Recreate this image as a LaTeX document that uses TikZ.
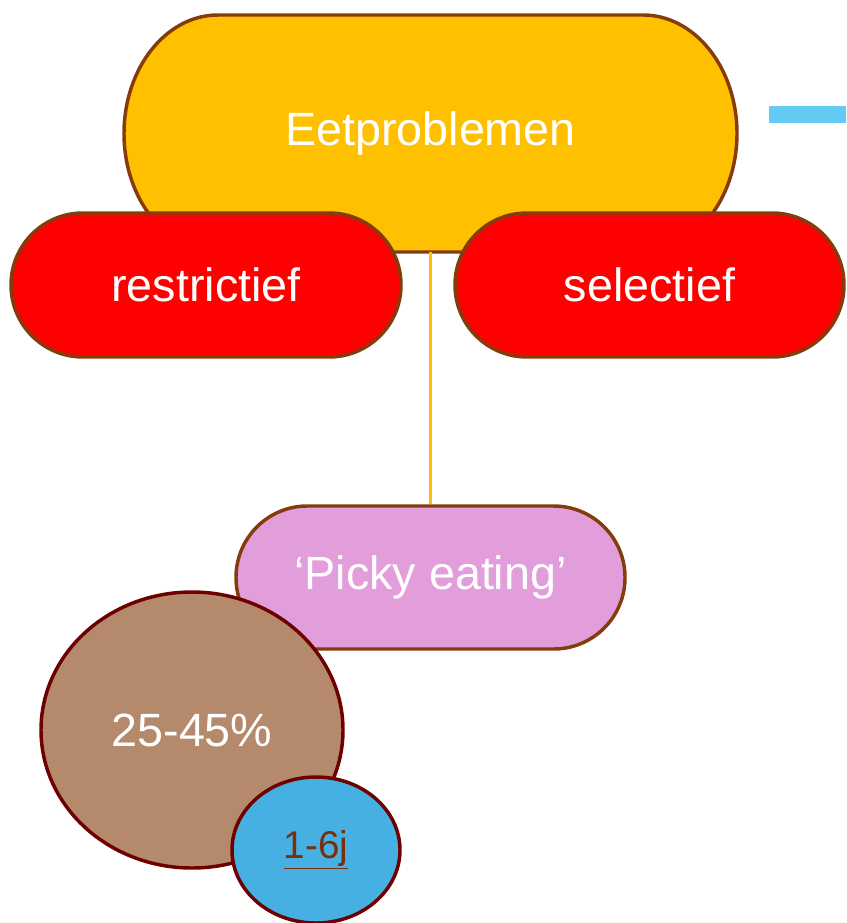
\documentclass[tikz,border=0pt]{standalone}
\usepackage{fontspec}
\setmainfont{Liberation Sans}
\usetikzlibrary{shapes.geometric}
\definecolor{goldfill}{HTML}{FFC000}
\definecolor{rustline}{HTML}{843C0C}
\definecolor{redfill}{HTML}{FF0000}
\definecolor{pinkfill}{HTML}{E29EDB}
\definecolor{tanfill}{HTML}{B5896B}
\definecolor{maroonline}{HTML}{6E0000}
\definecolor{bluefill}{HTML}{45B0E1}
\definecolor{barblue}{HTML}{63CAF4}
\definecolor{darktext}{HTML}{7A2E0E}
\tikzset{
  bigtext/.style={text=white, font=\fontsize{35}{42}\selectfont, inner sep=0pt},
  pill/.style={bigtext, draw=rustline, line width=2.6pt},
  blob/.style={ellipse, draw=maroonline, line width=2.6pt, inner sep=0pt},
  link/.style={draw=goldfill, line width=2.6pt}
}
\begin{document}
\begin{tikzpicture}[x=0.75pt,y=-0.75pt]
  \useasboundingbox (0,0) rectangle (846,923);
  % accent bar at the top right
  \fill[barblue] (769,106) rectangle (846,123);
  % main heading: rounded box with elliptical ends
  \draw[fill=goldfill, draw=rustline, line width=2.6pt]
    (218,15) -- (643,15)
    arc[start angle=90, end angle=-90, x radius=70.5pt, y radius=88.875pt]
    -- (218,252)
    arc[start angle=270, end angle=90, x radius=70.5pt, y radius=88.875pt]
    -- cycle;
  \node[bigtext, minimum width=459.75pt, minimum height=177.75pt]
    (top) at (430.5,133.5) {Eetproblemen};
  % the two kinds
  \node[pill, fill=redfill, minimum width=292.5pt, minimum height=108pt,
        rounded corners=53.9pt] (restr) at (206,285) {restrictief};
  \node[pill, fill=redfill, minimum width=291.75pt, minimum height=108pt,
        rounded corners=53.9pt] (selec) at (649.5,285) {selectief};
  % picky eating branch
  \node[pill, fill=pinkfill, minimum width=291.75pt, minimum height=107.25pt,
        rounded corners=53.5pt] (picky) at (430.5,577.5) {‘Picky eating’};
  \draw[link] (top.south) -- (picky.north);
  % prevalence and age range
  \node[blob, fill=tanfill, minimum width=226.5pt, minimum height=207pt,
        text=white, font=\fontsize{35}{42}\selectfont] (prev) at (192,730) {25-45\%};
  \node[blob, fill=bluefill, minimum width=126pt, minimum height=109.5pt,
        text=darktext, font=\fontsize{29}{35}\selectfont] (age) at (316,850) {\underline{1-6j}};
\end{tikzpicture}
\end{document}
